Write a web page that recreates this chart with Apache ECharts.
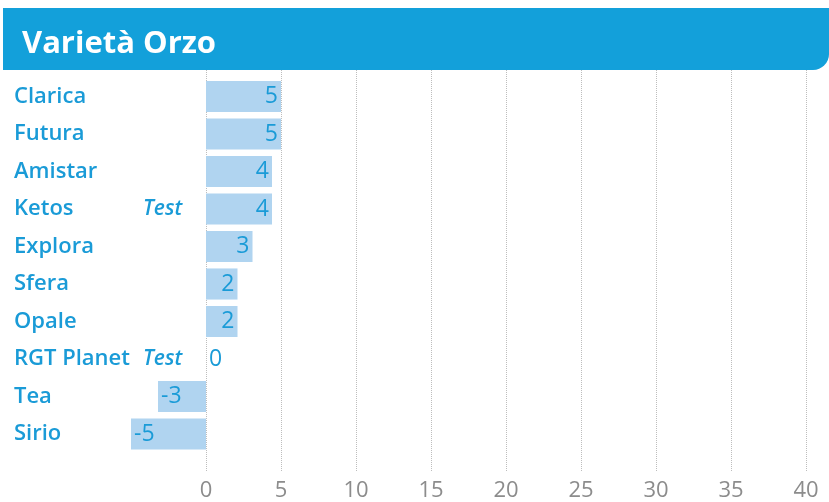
<!DOCTYPE html>
<html>
<head>
<meta charset="utf-8">
<script src="https://cdn.jsdelivr.net/npm/echarts@6/dist/echarts.min.js"></script>
<style>
  html, body { margin: 0; padding: 0; background: #fff; }
  #main { width: 829px; height: 502px; }
</style>
</head>
<body>
<div id="main"></div>
<script>
var categories = ['Clarica', 'Futura', 'Amistar', 'Ketos', 'Explora', 'Sfera', 'Opale', 'RGT Planet', 'Tea', 'Sirio'];
var notes = ['', '', '', 'Test', '', '', '', 'Test', '', ''];
var values = [5, 5, 4.4, 4.4, 3.1, 2.1, 2.1, 0, -3.2, -5];
var axisMin = -5, axisMax = 40, axisStep = 5;

var blue = '#1a9bd7';
var font = '"Open Sans", "Noto Sans", sans-serif';

var myChart = echarts.init(document.getElementById('main'));

// bar label sits inside the end of the bar, outside for zero
var barData = values.map(function (v) {
    var pos = v > 0 ? 'insideRight' : (v < 0 ? 'insideLeft' : 'right');
    return { value: v, label: { position: pos } };
});

var option = {
    animation: false,
    graphic: [
        {
            type: 'rect',
            left: 3, top: 8,
            shape: { width: 826, height: 62, r: [0, 0, 16, 0] },
            style: { fill: '#13a0da' }
        },
        {
            type: 'text',
            left: 22, top: 29,
            style: {
                text: 'Varietà Orzo',
                fill: '#fff',
                font: 'bold 31px ' + font
            }
        }
    ],
    grid: [
        { left: 131, right: 23, top: 70, bottom: 30 },
        { left: 131, right: 23, top: 77.75, height: 375 }
    ],
    xAxis: [
        {
            gridIndex: 0,
            type: 'value',
            min: axisMin, max: axisMax, interval: axisStep,
            axisLine: { show: false },
            axisTick: { show: false },
            axisLabel: {
                color: '#8c8c8c',
                fontSize: 22,
                fontFamily: font,
                margin: 8,
                formatter: function (v) { return v < 0 ? '' : v; }
            },
            splitLine: {
                lineStyle: {
                    type: 'dotted',
                    width: 1,
                    // first line (the -5 position) hidden
                    color: ['rgba(0,0,0,0)', '#bdbdbd', '#bdbdbd', '#bdbdbd', '#bdbdbd',
                            '#bdbdbd', '#bdbdbd', '#bdbdbd', '#bdbdbd', '#bdbdbd']
                }
            }
        },
        {
            gridIndex: 1,
            type: 'value',
            min: axisMin, max: axisMax, interval: axisStep,
            show: false
        }
    ],
    yAxis: [
        {
            gridIndex: 0,
            type: 'category',
            data: categories,
            show: false
        },
        {
            gridIndex: 1,
            type: 'category',
            data: categories,
            inverse: true,
            axisLine: { show: false },
            axisTick: { show: false },
            axisLabel: {
                align: 'left',
                margin: 117,
                formatter: function (name) {
                    var n = notes[categories.indexOf(name)];
                    return '{n|' + name + '}' + (n ? '{t|' + n + '}' : '');
                },
                rich: {
                    n: { color: blue, fontSize: 22, fontWeight: 600, fontFamily: font, width: 129 },
                    t: { color: blue, fontSize: 21, fontWeight: 600, fontStyle: 'italic', fontFamily: font }
                }
            }
        }
    ],
    series: [
        {
            type: 'bar',
            xAxisIndex: 1,
            yAxisIndex: 1,
            data: barData,
            barCategoryGap: '17%',
            itemStyle: { color: '#b0d4f0' },
            label: {
                show: true,
                color: blue,
                fontSize: 23,
                fontFamily: font,
                distance: 3,
                formatter: function (p) { return Math.round(p.value); }
            }
        }
    ]
};

myChart.setOption(option);
</script>
</body>
</html>
